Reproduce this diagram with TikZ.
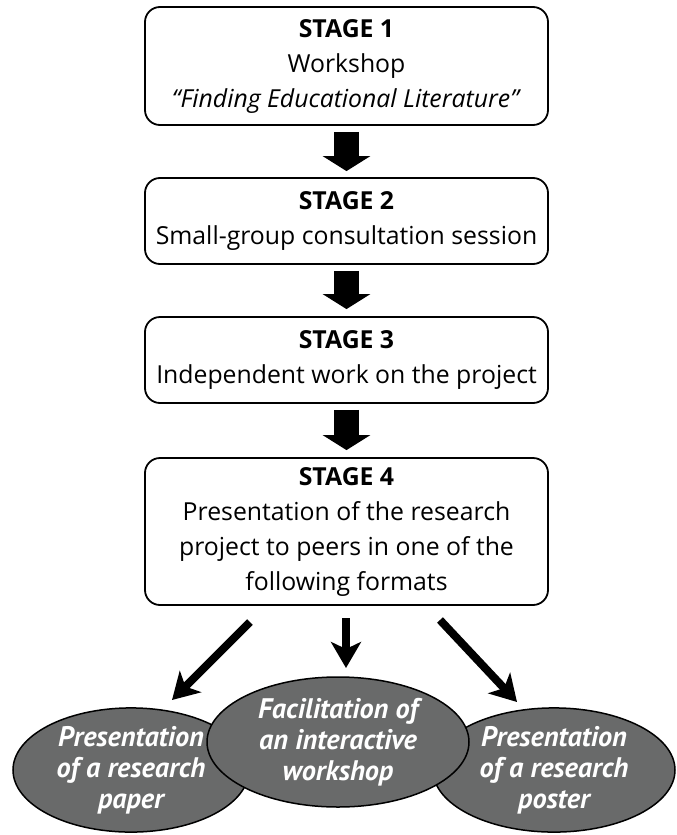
\documentclass[tikz,border=0pt]{standalone}
\usepackage{fontspec}
\setmainfont{Open Sans}
\newfontfamily\ellfont{PT Sans}
\usetikzlibrary{arrows.meta,shapes.geometric}
\definecolor{ellfill}{RGB}{105,106,106}
\tikzset{
  stagebox/.style={draw=black, line width=1.8pt, rounded corners=15pt, minimum width=403pt,
    align=center, inner sep=0pt, font=\fontsize{24.8}{35}\selectfont},
  outcome/.style={ellipse, draw=black, line width=1.5pt, fill=ellfill, inner sep=0pt,
    align=center, text=white, font=\ellfont\fontsize{28.3}{31}\selectfont\bfseries\itshape},
  blockarrow/.style={line width=25pt, -{Triangle[length=15pt,width=47pt]}},
  thinarrow/.style={line width=8pt, -{Stealth[length=26pt,width=30pt,inset=7pt]}}
}
\begin{document}
\begin{tikzpicture}[x=1pt,y=-1pt]
\useasboundingbox (0,0) rectangle (677,835);
\node[stagebox, minimum height=118pt] (b1) at (346.5,66) {\textbf{STAGE 1}\\Workshop\\\textit{“Finding Educational Literature”}};
\node[stagebox, minimum height=86pt] (b2) at (346.5,221) {\textbf{STAGE 2}\\Small-group consultation session};
\node[stagebox, minimum height=86pt] (b3) at (346.5,360) {\textbf{STAGE 3}\\Independent work on the project};
\node[stagebox, minimum height=147pt] (b4) at (346.5,531.5) {\textbf{STAGE 4}\\Presentation of the research\\project to peers in one of the\\following formats};
\draw[blockarrow, shorten <=6pt, shorten >=6pt] (b1.south) -- (b2.north);
\draw[blockarrow, shorten <=6pt, shorten >=7pt] (b2.south) -- (b3.north);
\draw[blockarrow, shorten <=6pt, shorten >=7pt] (b3.south) -- (b4.north);
\node[outcome, minimum width=236pt, minimum height=124pt] (e1) at (131,770) {Presentation\\of a research\\paper};
\node[outcome, minimum width=242pt, minimum height=124pt] (e3) at (554,770) {Presentation\\of a research\\poster};
\node[outcome, minimum width=262pt, minimum height=130pt] (e2) at (338,742) {Facilitation of\\an interactive\\workshop};
\coordinate (a1s) at (250,622);
\coordinate (a1e) at (172,700);
\coordinate (a2s) at (346,618);
\coordinate (a2e) at (346,668);
\coordinate (a3s) at (440,620);
\coordinate (a3e) at (517,702);
\draw[thinarrow] (a1s) -- (a1e);
\draw[thinarrow] (a2s) -- (a2e);
\draw[thinarrow] (a3s) -- (a3e);
\end{tikzpicture}
\end{document}
